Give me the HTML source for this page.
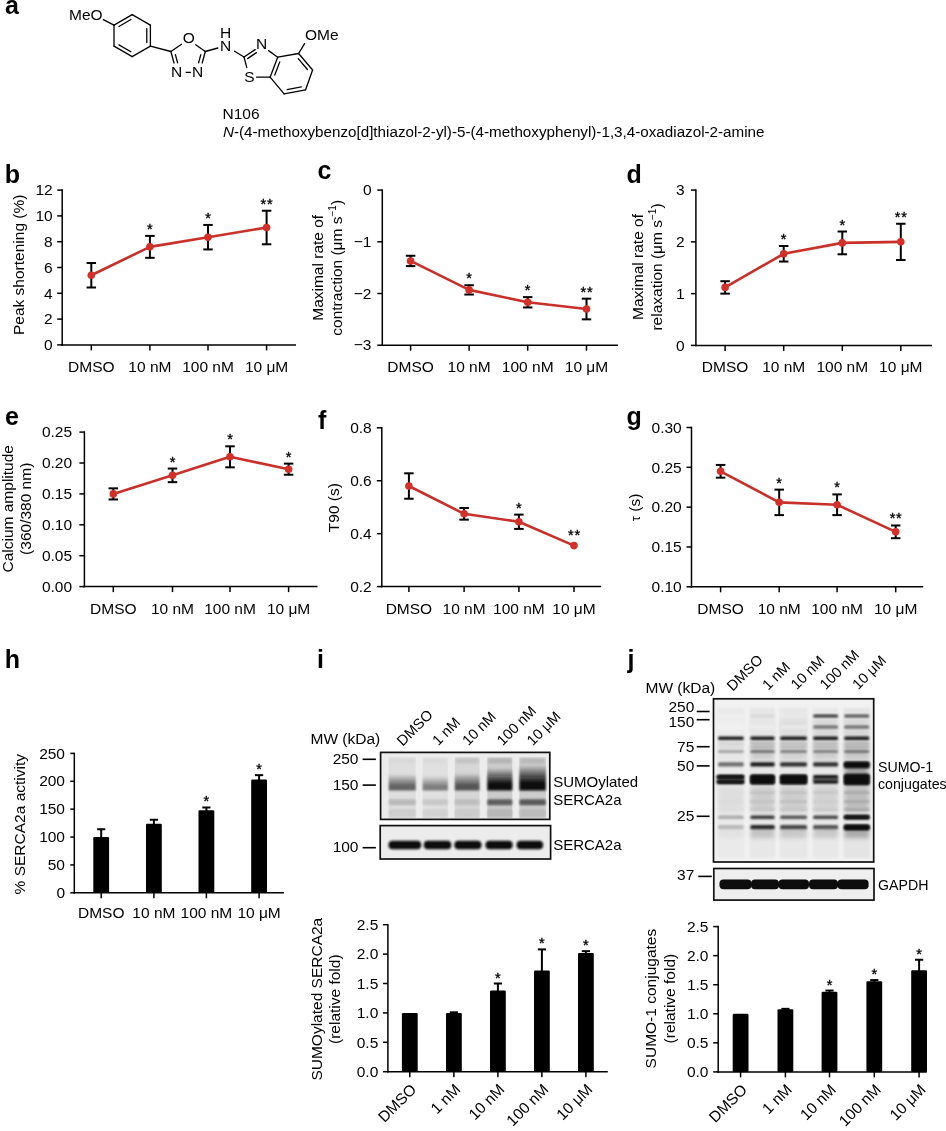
<!DOCTYPE html>
<html><head><meta charset="utf-8"><style>
html,body{margin:0;padding:0;background:#fff;width:946px;height:1131px;overflow:hidden}
svg{display:block;will-change:transform}
text{font-family:"Liberation Sans",sans-serif;fill:#000}
</style></head><body>
<svg width="946" height="1131" viewBox="0 0 946 1131" font-family="Liberation Sans, sans-serif">
<rect width="946" height="1131" fill="#fff"/>
<text x="5" y="14" font-size="25" text-anchor="start" font-weight="bold" >a</text>
<text x="4.8" y="182.6" font-size="25" text-anchor="start" font-weight="bold" >b</text>
<text x="317.6" y="178.6" font-size="25" text-anchor="start" font-weight="bold" >c</text>
<text x="626.5" y="182.6" font-size="25" text-anchor="start" font-weight="bold" >d</text>
<text x="5" y="425.2" font-size="25" text-anchor="start" font-weight="bold" >e</text>
<text x="318" y="429.4" font-size="25" text-anchor="start" font-weight="bold" >f</text>
<text x="626.6" y="425.2" font-size="25" text-anchor="start" font-weight="bold" >g</text>
<text x="4.8" y="667.5" font-size="25" text-anchor="start" font-weight="bold" >h</text>
<text x="317" y="667.5" font-size="25" text-anchor="start" font-weight="bold" >i</text>
<text x="627.5" y="667.5" font-size="25" text-anchor="start" font-weight="bold" >j</text>
<line x1="62.2" y1="189.35" x2="62.2" y2="345.65" stroke="#000" stroke-width="1.5" />
<line x1="61.45" y1="344.9" x2="296" y2="344.9" stroke="#000" stroke-width="1.5" />
<line x1="57.2" y1="344.9" x2="62.2" y2="344.9" stroke="#000" stroke-width="1.5" />
<text x="52.7" y="350.1" font-size="15.5" text-anchor="end" font-weight="normal" >0</text>
<line x1="57.2" y1="319.1" x2="62.2" y2="319.1" stroke="#000" stroke-width="1.5" />
<text x="52.7" y="324.3" font-size="15.5" text-anchor="end" font-weight="normal" >2</text>
<line x1="57.2" y1="293.3" x2="62.2" y2="293.3" stroke="#000" stroke-width="1.5" />
<text x="52.7" y="298.5" font-size="15.5" text-anchor="end" font-weight="normal" >4</text>
<line x1="57.2" y1="267.5" x2="62.2" y2="267.5" stroke="#000" stroke-width="1.5" />
<text x="52.7" y="272.7" font-size="15.5" text-anchor="end" font-weight="normal" >6</text>
<line x1="57.2" y1="241.7" x2="62.2" y2="241.7" stroke="#000" stroke-width="1.5" />
<text x="52.7" y="246.9" font-size="15.5" text-anchor="end" font-weight="normal" >8</text>
<line x1="57.2" y1="215.9" x2="62.2" y2="215.9" stroke="#000" stroke-width="1.5" />
<text x="52.7" y="221.1" font-size="15.5" text-anchor="end" font-weight="normal" >10</text>
<line x1="57.2" y1="190.1" x2="62.2" y2="190.1" stroke="#000" stroke-width="1.5" />
<text x="52.7" y="195.3" font-size="15.5" text-anchor="end" font-weight="normal" >12</text>
<line x1="91.3" y1="344.9" x2="91.3" y2="350.4" stroke="#000" stroke-width="1.5" />
<text x="91.3" y="371.9" font-size="15.5" text-anchor="middle" font-weight="normal" >DMSO</text>
<line x1="149.9" y1="344.9" x2="149.9" y2="350.4" stroke="#000" stroke-width="1.5" />
<text x="149.9" y="371.9" font-size="15.5" text-anchor="middle" font-weight="normal" >10 nM</text>
<line x1="208" y1="344.9" x2="208" y2="350.4" stroke="#000" stroke-width="1.5" />
<text x="208" y="371.9" font-size="15.5" text-anchor="middle" font-weight="normal" >100 nM</text>
<line x1="266.6" y1="344.9" x2="266.6" y2="350.4" stroke="#000" stroke-width="1.5" />
<text x="266.6" y="371.9" font-size="15.5" text-anchor="middle" font-weight="normal" >10 μM</text>
<line x1="91.3" y1="262.99" x2="91.3" y2="287.5" stroke="#000" stroke-width="2" />
<line x1="86.55" y1="262.99" x2="96.05" y2="262.99" stroke="#000" stroke-width="2" />
<line x1="86.55" y1="287.5" x2="96.05" y2="287.5" stroke="#000" stroke-width="2" />
<line x1="149.9" y1="235.89" x2="149.9" y2="257.82" stroke="#000" stroke-width="2" />
<line x1="145.15" y1="235.89" x2="154.65" y2="235.89" stroke="#000" stroke-width="2" />
<line x1="145.15" y1="257.82" x2="154.65" y2="257.82" stroke="#000" stroke-width="2" />
<line x1="208" y1="224.93" x2="208" y2="249.44" stroke="#000" stroke-width="2" />
<line x1="203.25" y1="224.93" x2="212.75" y2="224.93" stroke="#000" stroke-width="2" />
<line x1="203.25" y1="249.44" x2="212.75" y2="249.44" stroke="#000" stroke-width="2" />
<line x1="266.6" y1="210.74" x2="266.6" y2="244.28" stroke="#000" stroke-width="2" />
<line x1="261.85" y1="210.74" x2="271.35" y2="210.74" stroke="#000" stroke-width="2" />
<line x1="261.85" y1="244.28" x2="271.35" y2="244.28" stroke="#000" stroke-width="2" />
<polyline points="91.3,275.24 149.9,246.86 208,237.19 266.6,227.51" fill="none" stroke="#c9302a" stroke-width="2.6" stroke-linejoin="round"/>
<circle cx="91.3" cy="275.24" r="3.8" fill="#d3302a"/>
<circle cx="149.9" cy="246.86" r="3.8" fill="#d3302a"/>
<circle cx="208" cy="237.19" r="3.8" fill="#d3302a"/>
<circle cx="266.6" cy="227.51" r="3.8" fill="#d3302a"/>
<text x="149.9" y="233.89" font-size="14.5" text-anchor="middle" font-weight="normal" stroke="#000" stroke-width="0.35">*</text>
<text x="208" y="222.93" font-size="14.5" text-anchor="middle" font-weight="normal" stroke="#000" stroke-width="0.35">*</text>
<text x="267" y="208.74" font-size="14.5" text-anchor="middle" font-weight="normal" letter-spacing="0.8" stroke="#000" stroke-width="0.35">**</text>
<text transform="translate(24.3,264.8) rotate(-90)" font-size="15.5" text-anchor="middle">Peak shortening (%)</text>
<line x1="382.3" y1="189.35" x2="382.3" y2="345.95" stroke="#000" stroke-width="1.5" />
<line x1="381.55" y1="345.2" x2="618" y2="345.2" stroke="#000" stroke-width="1.5" />
<line x1="377.3" y1="190.1" x2="382.3" y2="190.1" stroke="#000" stroke-width="1.5" />
<text x="371.5" y="195.3" font-size="15.5" text-anchor="end" font-weight="normal" >0</text>
<line x1="377.3" y1="241.8" x2="382.3" y2="241.8" stroke="#000" stroke-width="1.5" />
<text x="371.5" y="247" font-size="15.5" text-anchor="end" font-weight="normal" >−1</text>
<line x1="377.3" y1="293.5" x2="382.3" y2="293.5" stroke="#000" stroke-width="1.5" />
<text x="371.5" y="298.7" font-size="15.5" text-anchor="end" font-weight="normal" >−2</text>
<line x1="377.3" y1="345.2" x2="382.3" y2="345.2" stroke="#000" stroke-width="1.5" />
<text x="371.5" y="350.4" font-size="15.5" text-anchor="end" font-weight="normal" >−3</text>
<line x1="410.6" y1="345.2" x2="410.6" y2="350.7" stroke="#000" stroke-width="1.5" />
<text x="410.6" y="372.2" font-size="15.5" text-anchor="middle" font-weight="normal" >DMSO</text>
<line x1="469.1" y1="345.2" x2="469.1" y2="350.7" stroke="#000" stroke-width="1.5" />
<text x="469.1" y="372.2" font-size="15.5" text-anchor="middle" font-weight="normal" >10 nM</text>
<line x1="527.7" y1="345.2" x2="527.7" y2="350.7" stroke="#000" stroke-width="1.5" />
<text x="527.7" y="372.2" font-size="15.5" text-anchor="middle" font-weight="normal" >100 nM</text>
<line x1="586.5" y1="345.2" x2="586.5" y2="350.7" stroke="#000" stroke-width="1.5" />
<text x="586.5" y="372.2" font-size="15.5" text-anchor="middle" font-weight="normal" >10 μM</text>
<line x1="410.6" y1="255.76" x2="410.6" y2="266.1" stroke="#000" stroke-width="2" />
<line x1="405.85" y1="255.76" x2="415.35" y2="255.76" stroke="#000" stroke-width="2" />
<line x1="405.85" y1="266.1" x2="415.35" y2="266.1" stroke="#000" stroke-width="2" />
<line x1="469.1" y1="285.23" x2="469.1" y2="294.53" stroke="#000" stroke-width="2" />
<line x1="464.35" y1="285.23" x2="473.85" y2="285.23" stroke="#000" stroke-width="2" />
<line x1="464.35" y1="294.53" x2="473.85" y2="294.53" stroke="#000" stroke-width="2" />
<line x1="527.7" y1="297.12" x2="527.7" y2="307.46" stroke="#000" stroke-width="2" />
<line x1="522.95" y1="297.12" x2="532.45" y2="297.12" stroke="#000" stroke-width="2" />
<line x1="522.95" y1="307.46" x2="532.45" y2="307.46" stroke="#000" stroke-width="2" />
<line x1="586.5" y1="298.67" x2="586.5" y2="319.35" stroke="#000" stroke-width="2" />
<line x1="581.75" y1="298.67" x2="591.25" y2="298.67" stroke="#000" stroke-width="2" />
<line x1="581.75" y1="319.35" x2="591.25" y2="319.35" stroke="#000" stroke-width="2" />
<polyline points="410.6,260.93 469.1,289.88 527.7,302.29 586.5,309.01" fill="none" stroke="#c9302a" stroke-width="2.6" stroke-linejoin="round"/>
<circle cx="410.6" cy="260.93" r="3.8" fill="#d3302a"/>
<circle cx="469.1" cy="289.88" r="3.8" fill="#d3302a"/>
<circle cx="527.7" cy="302.29" r="3.8" fill="#d3302a"/>
<circle cx="586.5" cy="309.01" r="3.8" fill="#d3302a"/>
<text x="469.1" y="283.23" font-size="14.5" text-anchor="middle" font-weight="normal" stroke="#000" stroke-width="0.35">*</text>
<text x="527.7" y="295.12" font-size="14.5" text-anchor="middle" font-weight="normal" stroke="#000" stroke-width="0.35">*</text>
<text x="586.9" y="296.67" font-size="14.5" text-anchor="middle" font-weight="normal" letter-spacing="0.8" stroke="#000" stroke-width="0.35">**</text>
<text transform="translate(323.2,267.8) rotate(-90)" font-size="15.5" text-anchor="middle">Maximal rate of</text>
<text transform="translate(341.5,267.8) rotate(-90)" font-size="15.5" text-anchor="middle">contraction (μm s<tspan font-size='10' dy='-6'>−1</tspan><tspan dy='6'>)</tspan></text>
<line x1="695.9" y1="189.35" x2="695.9" y2="346.15" stroke="#000" stroke-width="1.5" />
<line x1="695.15" y1="345.4" x2="931.9" y2="345.4" stroke="#000" stroke-width="1.5" />
<line x1="690.9" y1="345.4" x2="695.9" y2="345.4" stroke="#000" stroke-width="1.5" />
<text x="684.6" y="350.6" font-size="15.5" text-anchor="end" font-weight="normal" >0</text>
<line x1="690.9" y1="293.63" x2="695.9" y2="293.63" stroke="#000" stroke-width="1.5" />
<text x="684.6" y="298.83" font-size="15.5" text-anchor="end" font-weight="normal" >1</text>
<line x1="690.9" y1="241.87" x2="695.9" y2="241.87" stroke="#000" stroke-width="1.5" />
<text x="684.6" y="247.07" font-size="15.5" text-anchor="end" font-weight="normal" >2</text>
<line x1="690.9" y1="190.1" x2="695.9" y2="190.1" stroke="#000" stroke-width="1.5" />
<text x="684.6" y="195.3" font-size="15.5" text-anchor="end" font-weight="normal" >3</text>
<line x1="725.1" y1="345.4" x2="725.1" y2="350.9" stroke="#000" stroke-width="1.5" />
<text x="725.1" y="372.4" font-size="15.5" text-anchor="middle" font-weight="normal" >DMSO</text>
<line x1="783.7" y1="345.4" x2="783.7" y2="350.9" stroke="#000" stroke-width="1.5" />
<text x="783.7" y="372.4" font-size="15.5" text-anchor="middle" font-weight="normal" >10 nM</text>
<line x1="842.3" y1="345.4" x2="842.3" y2="350.9" stroke="#000" stroke-width="1.5" />
<text x="842.3" y="372.4" font-size="15.5" text-anchor="middle" font-weight="normal" >100 nM</text>
<line x1="900.8" y1="345.4" x2="900.8" y2="350.9" stroke="#000" stroke-width="1.5" />
<text x="900.8" y="372.4" font-size="15.5" text-anchor="middle" font-weight="normal" >10 μM</text>
<line x1="725.1" y1="281.21" x2="725.1" y2="293.63" stroke="#000" stroke-width="2" />
<line x1="720.35" y1="281.21" x2="729.85" y2="281.21" stroke="#000" stroke-width="2" />
<line x1="720.35" y1="293.63" x2="729.85" y2="293.63" stroke="#000" stroke-width="2" />
<line x1="783.7" y1="246.01" x2="783.7" y2="261.54" stroke="#000" stroke-width="2" />
<line x1="778.95" y1="246.01" x2="788.45" y2="246.01" stroke="#000" stroke-width="2" />
<line x1="778.95" y1="261.54" x2="788.45" y2="261.54" stroke="#000" stroke-width="2" />
<line x1="842.3" y1="231.51" x2="842.3" y2="254.29" stroke="#000" stroke-width="2" />
<line x1="837.55" y1="231.51" x2="847.05" y2="231.51" stroke="#000" stroke-width="2" />
<line x1="837.55" y1="254.29" x2="847.05" y2="254.29" stroke="#000" stroke-width="2" />
<line x1="900.8" y1="223.75" x2="900.8" y2="259.99" stroke="#000" stroke-width="2" />
<line x1="896.05" y1="223.75" x2="905.55" y2="223.75" stroke="#000" stroke-width="2" />
<line x1="896.05" y1="259.99" x2="905.55" y2="259.99" stroke="#000" stroke-width="2" />
<polyline points="725.1,287.42 783.7,253.77 842.3,242.9 900.8,241.87" fill="none" stroke="#c9302a" stroke-width="2.6" stroke-linejoin="round"/>
<circle cx="725.1" cy="287.42" r="3.8" fill="#d3302a"/>
<circle cx="783.7" cy="253.77" r="3.8" fill="#d3302a"/>
<circle cx="842.3" cy="242.9" r="3.8" fill="#d3302a"/>
<circle cx="900.8" cy="241.87" r="3.8" fill="#d3302a"/>
<text x="783.7" y="244.01" font-size="14.5" text-anchor="middle" font-weight="normal" stroke="#000" stroke-width="0.35">*</text>
<text x="842.3" y="229.51" font-size="14.5" text-anchor="middle" font-weight="normal" stroke="#000" stroke-width="0.35">*</text>
<text x="901.2" y="221.75" font-size="14.5" text-anchor="middle" font-weight="normal" letter-spacing="0.8" stroke="#000" stroke-width="0.35">**</text>
<text transform="translate(643.2,267) rotate(-90)" font-size="15.5" text-anchor="middle">Maximal rate of</text>
<text transform="translate(661.5,267) rotate(-90)" font-size="15.5" text-anchor="middle">relaxation (μm s<tspan font-size='10' dy='-6'>−1</tspan><tspan dy='6'>)</tspan></text>
<line x1="84.4" y1="431.35" x2="84.4" y2="587.35" stroke="#000" stroke-width="1.5" />
<line x1="83.65" y1="586.6" x2="317.5" y2="586.6" stroke="#000" stroke-width="1.5" />
<line x1="79.4" y1="586.6" x2="84.4" y2="586.6" stroke="#000" stroke-width="1.5" />
<text x="72.1" y="591.8" font-size="15.5" text-anchor="end" font-weight="normal" >0.00</text>
<line x1="79.4" y1="555.7" x2="84.4" y2="555.7" stroke="#000" stroke-width="1.5" />
<text x="72.1" y="560.9" font-size="15.5" text-anchor="end" font-weight="normal" >0.05</text>
<line x1="79.4" y1="524.8" x2="84.4" y2="524.8" stroke="#000" stroke-width="1.5" />
<text x="72.1" y="530" font-size="15.5" text-anchor="end" font-weight="normal" >0.10</text>
<line x1="79.4" y1="493.9" x2="84.4" y2="493.9" stroke="#000" stroke-width="1.5" />
<text x="72.1" y="499.1" font-size="15.5" text-anchor="end" font-weight="normal" >0.15</text>
<line x1="79.4" y1="463" x2="84.4" y2="463" stroke="#000" stroke-width="1.5" />
<text x="72.1" y="468.2" font-size="15.5" text-anchor="end" font-weight="normal" >0.20</text>
<line x1="79.4" y1="432.1" x2="84.4" y2="432.1" stroke="#000" stroke-width="1.5" />
<text x="72.1" y="437.3" font-size="15.5" text-anchor="end" font-weight="normal" >0.25</text>
<line x1="113.3" y1="586.6" x2="113.3" y2="592.1" stroke="#000" stroke-width="1.5" />
<text x="113.3" y="613.6" font-size="15.5" text-anchor="middle" font-weight="normal" >DMSO</text>
<line x1="172.5" y1="586.6" x2="172.5" y2="592.1" stroke="#000" stroke-width="1.5" />
<text x="172.5" y="613.6" font-size="15.5" text-anchor="middle" font-weight="normal" >10 nM</text>
<line x1="230" y1="586.6" x2="230" y2="592.1" stroke="#000" stroke-width="1.5" />
<text x="230" y="613.6" font-size="15.5" text-anchor="middle" font-weight="normal" >100 nM</text>
<line x1="288.6" y1="586.6" x2="288.6" y2="592.1" stroke="#000" stroke-width="1.5" />
<text x="288.6" y="613.6" font-size="15.5" text-anchor="middle" font-weight="normal" >10 μM</text>
<line x1="113.3" y1="488.34" x2="113.3" y2="499.46" stroke="#000" stroke-width="2" />
<line x1="108.55" y1="488.34" x2="118.05" y2="488.34" stroke="#000" stroke-width="2" />
<line x1="108.55" y1="499.46" x2="118.05" y2="499.46" stroke="#000" stroke-width="2" />
<line x1="172.5" y1="468.56" x2="172.5" y2="482.16" stroke="#000" stroke-width="2" />
<line x1="167.75" y1="468.56" x2="177.25" y2="468.56" stroke="#000" stroke-width="2" />
<line x1="167.75" y1="482.16" x2="177.25" y2="482.16" stroke="#000" stroke-width="2" />
<line x1="230" y1="446.31" x2="230" y2="467.33" stroke="#000" stroke-width="2" />
<line x1="225.25" y1="446.31" x2="234.75" y2="446.31" stroke="#000" stroke-width="2" />
<line x1="225.25" y1="467.33" x2="234.75" y2="467.33" stroke="#000" stroke-width="2" />
<line x1="288.6" y1="463.62" x2="288.6" y2="474.74" stroke="#000" stroke-width="2" />
<line x1="283.85" y1="463.62" x2="293.35" y2="463.62" stroke="#000" stroke-width="2" />
<line x1="283.85" y1="474.74" x2="293.35" y2="474.74" stroke="#000" stroke-width="2" />
<polyline points="113.3,493.9 172.5,475.36 230,456.82 288.6,469.18" fill="none" stroke="#c9302a" stroke-width="2.6" stroke-linejoin="round"/>
<circle cx="113.3" cy="493.9" r="3.8" fill="#d3302a"/>
<circle cx="172.5" cy="475.36" r="3.8" fill="#d3302a"/>
<circle cx="230" cy="456.82" r="3.8" fill="#d3302a"/>
<circle cx="288.6" cy="469.18" r="3.8" fill="#d3302a"/>
<text x="172.5" y="466.56" font-size="14.5" text-anchor="middle" font-weight="normal" stroke="#000" stroke-width="0.35">*</text>
<text x="230" y="444.31" font-size="14.5" text-anchor="middle" font-weight="normal" stroke="#000" stroke-width="0.35">*</text>
<text x="288.6" y="461.62" font-size="14.5" text-anchor="middle" font-weight="normal" stroke="#000" stroke-width="0.35">*</text>
<text transform="translate(12.6,508.8) rotate(-90)" font-size="15.5" text-anchor="middle">Calcium amplitude</text>
<text transform="translate(31.1,508.8) rotate(-90)" font-size="15.5" text-anchor="middle">(360/380 nm)</text>
<line x1="381.8" y1="427.05" x2="381.8" y2="587.35" stroke="#000" stroke-width="1.5" />
<line x1="381.05" y1="586.6" x2="601.1" y2="586.6" stroke="#000" stroke-width="1.5" />
<line x1="376.8" y1="586.6" x2="381.8" y2="586.6" stroke="#000" stroke-width="1.5" />
<text x="371.7" y="591.8" font-size="15.5" text-anchor="end" font-weight="normal" >0.2</text>
<line x1="376.8" y1="533.67" x2="381.8" y2="533.67" stroke="#000" stroke-width="1.5" />
<text x="371.7" y="538.87" font-size="15.5" text-anchor="end" font-weight="normal" >0.4</text>
<line x1="376.8" y1="480.73" x2="381.8" y2="480.73" stroke="#000" stroke-width="1.5" />
<text x="371.7" y="485.93" font-size="15.5" text-anchor="end" font-weight="normal" >0.6</text>
<line x1="376.8" y1="427.8" x2="381.8" y2="427.8" stroke="#000" stroke-width="1.5" />
<text x="371.7" y="433" font-size="15.5" text-anchor="end" font-weight="normal" >0.8</text>
<line x1="408.9" y1="586.6" x2="408.9" y2="592.1" stroke="#000" stroke-width="1.5" />
<text x="408.9" y="613.6" font-size="15.5" text-anchor="middle" font-weight="normal" >DMSO</text>
<line x1="464.1" y1="586.6" x2="464.1" y2="592.1" stroke="#000" stroke-width="1.5" />
<text x="464.1" y="613.6" font-size="15.5" text-anchor="middle" font-weight="normal" >10 nM</text>
<line x1="518.9" y1="586.6" x2="518.9" y2="592.1" stroke="#000" stroke-width="1.5" />
<text x="518.9" y="613.6" font-size="15.5" text-anchor="middle" font-weight="normal" >100 nM</text>
<line x1="574" y1="586.6" x2="574" y2="592.1" stroke="#000" stroke-width="1.5" />
<text x="574" y="613.6" font-size="15.5" text-anchor="middle" font-weight="normal" >10 μM</text>
<line x1="408.9" y1="473.32" x2="408.9" y2="498.73" stroke="#000" stroke-width="2" />
<line x1="404.15" y1="473.32" x2="413.65" y2="473.32" stroke="#000" stroke-width="2" />
<line x1="404.15" y1="498.73" x2="413.65" y2="498.73" stroke="#000" stroke-width="2" />
<line x1="464.1" y1="507.99" x2="464.1" y2="519.64" stroke="#000" stroke-width="2" />
<line x1="459.35" y1="507.99" x2="468.85" y2="507.99" stroke="#000" stroke-width="2" />
<line x1="459.35" y1="519.64" x2="468.85" y2="519.64" stroke="#000" stroke-width="2" />
<line x1="518.9" y1="514.61" x2="518.9" y2="528.9" stroke="#000" stroke-width="2" />
<line x1="514.15" y1="514.61" x2="523.65" y2="514.61" stroke="#000" stroke-width="2" />
<line x1="514.15" y1="528.9" x2="523.65" y2="528.9" stroke="#000" stroke-width="2" />
<polyline points="408.9,486.03 464.1,513.82 518.9,521.76 574,545.58" fill="none" stroke="#c9302a" stroke-width="2.6" stroke-linejoin="round"/>
<circle cx="408.9" cy="486.03" r="3.8" fill="#d3302a"/>
<circle cx="464.1" cy="513.82" r="3.8" fill="#d3302a"/>
<circle cx="518.9" cy="521.76" r="3.8" fill="#d3302a"/>
<circle cx="574" cy="545.58" r="3.8" fill="#d3302a"/>
<text x="518.9" y="512.61" font-size="14.5" text-anchor="middle" font-weight="normal" stroke="#000" stroke-width="0.35">*</text>
<text x="574.4" y="539.58" font-size="14.5" text-anchor="middle" font-weight="normal" letter-spacing="0.8" stroke="#000" stroke-width="0.35">**</text>
<text transform="translate(339.4,507.6) rotate(-90)" font-size="15.5" text-anchor="middle">T90 (s)</text>
<line x1="691.5" y1="426.75" x2="691.5" y2="587.55" stroke="#000" stroke-width="1.5" />
<line x1="690.75" y1="586.8" x2="923.2" y2="586.8" stroke="#000" stroke-width="1.5" />
<line x1="686.5" y1="586.8" x2="691.5" y2="586.8" stroke="#000" stroke-width="1.5" />
<text x="681.7" y="592" font-size="15.5" text-anchor="end" font-weight="normal" >0.10</text>
<line x1="686.5" y1="546.98" x2="691.5" y2="546.98" stroke="#000" stroke-width="1.5" />
<text x="681.7" y="552.18" font-size="15.5" text-anchor="end" font-weight="normal" >0.15</text>
<line x1="686.5" y1="507.15" x2="691.5" y2="507.15" stroke="#000" stroke-width="1.5" />
<text x="681.7" y="512.35" font-size="15.5" text-anchor="end" font-weight="normal" >0.20</text>
<line x1="686.5" y1="467.32" x2="691.5" y2="467.32" stroke="#000" stroke-width="1.5" />
<text x="681.7" y="472.52" font-size="15.5" text-anchor="end" font-weight="normal" >0.25</text>
<line x1="686.5" y1="427.5" x2="691.5" y2="427.5" stroke="#000" stroke-width="1.5" />
<text x="681.7" y="432.7" font-size="15.5" text-anchor="end" font-weight="normal" >0.30</text>
<line x1="720.6" y1="586.8" x2="720.6" y2="592.3" stroke="#000" stroke-width="1.5" />
<text x="720.6" y="613.8" font-size="15.5" text-anchor="middle" font-weight="normal" >DMSO</text>
<line x1="779.2" y1="586.8" x2="779.2" y2="592.3" stroke="#000" stroke-width="1.5" />
<text x="779.2" y="613.8" font-size="15.5" text-anchor="middle" font-weight="normal" >10 nM</text>
<line x1="837.1" y1="586.8" x2="837.1" y2="592.3" stroke="#000" stroke-width="1.5" />
<text x="837.1" y="613.8" font-size="15.5" text-anchor="middle" font-weight="normal" >100 nM</text>
<line x1="895.7" y1="586.8" x2="895.7" y2="592.3" stroke="#000" stroke-width="1.5" />
<text x="895.7" y="613.8" font-size="15.5" text-anchor="middle" font-weight="normal" >10 μM</text>
<line x1="720.6" y1="464.94" x2="720.6" y2="477.68" stroke="#000" stroke-width="2" />
<line x1="715.85" y1="464.94" x2="725.35" y2="464.94" stroke="#000" stroke-width="2" />
<line x1="715.85" y1="477.68" x2="725.35" y2="477.68" stroke="#000" stroke-width="2" />
<line x1="779.2" y1="489.63" x2="779.2" y2="515.12" stroke="#000" stroke-width="2" />
<line x1="774.45" y1="489.63" x2="783.95" y2="489.63" stroke="#000" stroke-width="2" />
<line x1="774.45" y1="515.12" x2="783.95" y2="515.12" stroke="#000" stroke-width="2" />
<line x1="837.1" y1="494.41" x2="837.1" y2="515.12" stroke="#000" stroke-width="2" />
<line x1="832.35" y1="494.41" x2="841.85" y2="494.41" stroke="#000" stroke-width="2" />
<line x1="832.35" y1="515.12" x2="841.85" y2="515.12" stroke="#000" stroke-width="2" />
<line x1="895.7" y1="525.47" x2="895.7" y2="538.21" stroke="#000" stroke-width="2" />
<line x1="890.95" y1="525.47" x2="900.45" y2="525.47" stroke="#000" stroke-width="2" />
<line x1="890.95" y1="538.21" x2="900.45" y2="538.21" stroke="#000" stroke-width="2" />
<polyline points="720.6,471.31 779.2,502.37 837.1,504.76 895.7,531.84" fill="none" stroke="#c9302a" stroke-width="2.6" stroke-linejoin="round"/>
<circle cx="720.6" cy="471.31" r="3.8" fill="#d3302a"/>
<circle cx="779.2" cy="502.37" r="3.8" fill="#d3302a"/>
<circle cx="837.1" cy="504.76" r="3.8" fill="#d3302a"/>
<circle cx="895.7" cy="531.84" r="3.8" fill="#d3302a"/>
<text x="779.2" y="487.63" font-size="14.5" text-anchor="middle" font-weight="normal" stroke="#000" stroke-width="0.35">*</text>
<text x="837.1" y="492.41" font-size="14.5" text-anchor="middle" font-weight="normal" stroke="#000" stroke-width="0.35">*</text>
<text x="896.1" y="523.47" font-size="14.5" text-anchor="middle" font-weight="normal" letter-spacing="0.8" stroke="#000" stroke-width="0.35">**</text>
<text transform="translate(639.6,507.4) rotate(-90)" font-size="15.5" text-anchor="middle"><tspan font-size='13'>τ</tspan> (s)</text>
<line x1="74.3" y1="752.65" x2="74.3" y2="893.55" stroke="#000" stroke-width="1.5" />
<line x1="73.55" y1="892.8" x2="283.9" y2="892.8" stroke="#000" stroke-width="1.5" />
<line x1="70.3" y1="892.8" x2="74.3" y2="892.8" stroke="#000" stroke-width="1.5" />
<text x="65" y="898" font-size="15.5" text-anchor="end" font-weight="normal" >0</text>
<line x1="70.3" y1="864.92" x2="74.3" y2="864.92" stroke="#000" stroke-width="1.5" />
<text x="65" y="870.12" font-size="15.5" text-anchor="end" font-weight="normal" >50</text>
<line x1="70.3" y1="837.04" x2="74.3" y2="837.04" stroke="#000" stroke-width="1.5" />
<text x="65" y="842.24" font-size="15.5" text-anchor="end" font-weight="normal" >100</text>
<line x1="70.3" y1="809.16" x2="74.3" y2="809.16" stroke="#000" stroke-width="1.5" />
<text x="65" y="814.36" font-size="15.5" text-anchor="end" font-weight="normal" >150</text>
<line x1="70.3" y1="781.28" x2="74.3" y2="781.28" stroke="#000" stroke-width="1.5" />
<text x="65" y="786.48" font-size="15.5" text-anchor="end" font-weight="normal" >200</text>
<line x1="70.3" y1="753.4" x2="74.3" y2="753.4" stroke="#000" stroke-width="1.5" />
<text x="65" y="758.6" font-size="15.5" text-anchor="end" font-weight="normal" >250</text>
<line x1="101.2" y1="892.8" x2="101.2" y2="898.3" stroke="#000" stroke-width="1.5" />
<text x="101.2" y="917.6" font-size="15.5" text-anchor="middle" font-weight="normal" >DMSO</text>
<line x1="153.9" y1="892.8" x2="153.9" y2="898.3" stroke="#000" stroke-width="1.5" />
<text x="153.9" y="917.6" font-size="15.5" text-anchor="middle" font-weight="normal" >10 nM</text>
<line x1="206.4" y1="892.8" x2="206.4" y2="898.3" stroke="#000" stroke-width="1.5" />
<text x="206.4" y="917.6" font-size="15.5" text-anchor="middle" font-weight="normal" >100 nM</text>
<line x1="259.1" y1="892.8" x2="259.1" y2="898.3" stroke="#000" stroke-width="1.5" />
<text x="259.1" y="917.6" font-size="15.5" text-anchor="middle" font-weight="normal" >10 μM</text>
<line x1="101.2" y1="829.23" x2="101.2" y2="838.04" stroke="#000" stroke-width="2" />
<line x1="97.1" y1="829.23" x2="105.3" y2="829.23" stroke="#000" stroke-width="2" />
<rect x="93.3" y="837.04" width="15.8" height="55.76" rx="1.2" fill="#000"/>
<line x1="153.9" y1="819.75" x2="153.9" y2="824.66" stroke="#000" stroke-width="2" />
<line x1="149.8" y1="819.75" x2="158" y2="819.75" stroke="#000" stroke-width="2" />
<rect x="146" y="823.66" width="15.8" height="69.14" rx="1.2" fill="#000"/>
<line x1="206.4" y1="807.49" x2="206.4" y2="811.28" stroke="#000" stroke-width="2" />
<line x1="202.3" y1="807.49" x2="210.5" y2="807.49" stroke="#000" stroke-width="2" />
<rect x="198.5" y="810.28" width="15.8" height="82.52" rx="1.2" fill="#000"/>
<text x="206.4" y="806.49" font-size="14.5" text-anchor="middle" font-weight="normal" stroke="#000" stroke-width="0.35">*</text>
<line x1="259.1" y1="775.15" x2="259.1" y2="780.61" stroke="#000" stroke-width="2" />
<line x1="255" y1="775.15" x2="263.2" y2="775.15" stroke="#000" stroke-width="2" />
<rect x="251.2" y="779.61" width="15.8" height="113.19" rx="1.2" fill="#000"/>
<text x="259.1" y="774.15" font-size="14.5" text-anchor="middle" font-weight="normal" stroke="#000" stroke-width="0.35">*</text>
<text transform="translate(25.1,824.2) rotate(-90)" font-size="15.5" text-anchor="middle">% SERCA2a activity</text>
<line x1="387.9" y1="923.95" x2="387.9" y2="1072.45" stroke="#000" stroke-width="1.5" />
<line x1="387.15" y1="1071.7" x2="607.8" y2="1071.7" stroke="#000" stroke-width="1.5" />
<line x1="382.9" y1="1071.7" x2="387.9" y2="1071.7" stroke="#000" stroke-width="1.5" />
<text x="378.3" y="1076.9" font-size="15.5" text-anchor="end" font-weight="normal" >0.0</text>
<line x1="382.9" y1="1042.3" x2="387.9" y2="1042.3" stroke="#000" stroke-width="1.5" />
<text x="378.3" y="1047.5" font-size="15.5" text-anchor="end" font-weight="normal" >0.5</text>
<line x1="382.9" y1="1012.9" x2="387.9" y2="1012.9" stroke="#000" stroke-width="1.5" />
<text x="378.3" y="1018.1" font-size="15.5" text-anchor="end" font-weight="normal" >1.0</text>
<line x1="382.9" y1="983.5" x2="387.9" y2="983.5" stroke="#000" stroke-width="1.5" />
<text x="378.3" y="988.7" font-size="15.5" text-anchor="end" font-weight="normal" >1.5</text>
<line x1="382.9" y1="954.1" x2="387.9" y2="954.1" stroke="#000" stroke-width="1.5" />
<text x="378.3" y="959.3" font-size="15.5" text-anchor="end" font-weight="normal" >2.0</text>
<line x1="382.9" y1="924.7" x2="387.9" y2="924.7" stroke="#000" stroke-width="1.5" />
<text x="378.3" y="929.9" font-size="15.5" text-anchor="end" font-weight="normal" >2.5</text>
<line x1="409.8" y1="1071.7" x2="409.8" y2="1077.2" stroke="#000" stroke-width="1.5" />
<line x1="453.9" y1="1071.7" x2="453.9" y2="1077.2" stroke="#000" stroke-width="1.5" />
<line x1="497.9" y1="1071.7" x2="497.9" y2="1077.2" stroke="#000" stroke-width="1.5" />
<line x1="541.9" y1="1071.7" x2="541.9" y2="1077.2" stroke="#000" stroke-width="1.5" />
<line x1="585.9" y1="1071.7" x2="585.9" y2="1077.2" stroke="#000" stroke-width="1.5" />
<rect x="401.9" y="1012.9" width="15.8" height="58.8" rx="1.2" fill="#000"/>
<line x1="453.9" y1="1012.31" x2="453.9" y2="1013.9" stroke="#000" stroke-width="2" />
<line x1="449.8" y1="1012.31" x2="458" y2="1012.31" stroke="#000" stroke-width="2" />
<rect x="446" y="1012.9" width="15.8" height="58.8" rx="1.2" fill="#000"/>
<line x1="497.9" y1="983.5" x2="497.9" y2="991.56" stroke="#000" stroke-width="2" />
<line x1="493.8" y1="983.5" x2="502" y2="983.5" stroke="#000" stroke-width="2" />
<rect x="490" y="990.56" width="15.8" height="81.14" rx="1.2" fill="#000"/>
<text x="497.9" y="982.5" font-size="14.5" text-anchor="middle" font-weight="normal" stroke="#000" stroke-width="0.35">*</text>
<line x1="541.9" y1="949.4" x2="541.9" y2="971.56" stroke="#000" stroke-width="2" />
<line x1="537.8" y1="949.4" x2="546" y2="949.4" stroke="#000" stroke-width="2" />
<rect x="534" y="970.56" width="15.8" height="101.14" rx="1.2" fill="#000"/>
<text x="541.9" y="948.4" font-size="14.5" text-anchor="middle" font-weight="normal" stroke="#000" stroke-width="0.35">*</text>
<line x1="585.9" y1="951.16" x2="585.9" y2="953.92" stroke="#000" stroke-width="2" />
<line x1="581.8" y1="951.16" x2="590" y2="951.16" stroke="#000" stroke-width="2" />
<rect x="578" y="952.92" width="15.8" height="118.78" rx="1.2" fill="#000"/>
<text x="585.9" y="950.16" font-size="14.5" text-anchor="middle" font-weight="normal" stroke="#000" stroke-width="0.35">*</text>
<text transform="translate(417.3,1090.4) rotate(-45)" font-size="15.5" text-anchor="end">DMSO</text>
<text transform="translate(461.4,1090.4) rotate(-45)" font-size="15.5" text-anchor="end">1 nM</text>
<text transform="translate(505.4,1090.4) rotate(-45)" font-size="15.5" text-anchor="end">10 nM</text>
<text transform="translate(549.4,1090.4) rotate(-45)" font-size="15.5" text-anchor="end">100 nM</text>
<text transform="translate(593.4,1090.4) rotate(-45)" font-size="15.5" text-anchor="end">10 μM</text>
<text transform="translate(321.8,999.2) rotate(-90)" font-size="15.5" text-anchor="middle">SUMOylated SERCA2a</text>
<text transform="translate(340.4,999.2) rotate(-90)" font-size="15.5" text-anchor="middle">(relative fold)</text>
<line x1="718.2" y1="925.85" x2="718.2" y2="1072.65" stroke="#000" stroke-width="1.5" />
<line x1="717.45" y1="1071.9" x2="926.7" y2="1071.9" stroke="#000" stroke-width="1.5" />
<line x1="713.2" y1="1071.9" x2="718.2" y2="1071.9" stroke="#000" stroke-width="1.5" />
<text x="708.5" y="1077.1" font-size="15.5" text-anchor="end" font-weight="normal" >0.0</text>
<line x1="713.2" y1="1042.84" x2="718.2" y2="1042.84" stroke="#000" stroke-width="1.5" />
<text x="708.5" y="1048.04" font-size="15.5" text-anchor="end" font-weight="normal" >0.5</text>
<line x1="713.2" y1="1013.78" x2="718.2" y2="1013.78" stroke="#000" stroke-width="1.5" />
<text x="708.5" y="1018.98" font-size="15.5" text-anchor="end" font-weight="normal" >1.0</text>
<line x1="713.2" y1="984.72" x2="718.2" y2="984.72" stroke="#000" stroke-width="1.5" />
<text x="708.5" y="989.92" font-size="15.5" text-anchor="end" font-weight="normal" >1.5</text>
<line x1="713.2" y1="955.66" x2="718.2" y2="955.66" stroke="#000" stroke-width="1.5" />
<text x="708.5" y="960.86" font-size="15.5" text-anchor="end" font-weight="normal" >2.0</text>
<line x1="713.2" y1="926.6" x2="718.2" y2="926.6" stroke="#000" stroke-width="1.5" />
<text x="708.5" y="931.8" font-size="15.5" text-anchor="end" font-weight="normal" >2.5</text>
<line x1="740.6" y1="1071.9" x2="740.6" y2="1077.4" stroke="#000" stroke-width="1.5" />
<line x1="785.4" y1="1071.9" x2="785.4" y2="1077.4" stroke="#000" stroke-width="1.5" />
<line x1="829.5" y1="1071.9" x2="829.5" y2="1077.4" stroke="#000" stroke-width="1.5" />
<line x1="874.3" y1="1071.9" x2="874.3" y2="1077.4" stroke="#000" stroke-width="1.5" />
<line x1="919.1" y1="1071.9" x2="919.1" y2="1077.4" stroke="#000" stroke-width="1.5" />
<rect x="732.7" y="1013.78" width="15.8" height="58.12" rx="1.2" fill="#000"/>
<line x1="785.4" y1="1008.84" x2="785.4" y2="1010.13" stroke="#000" stroke-width="2" />
<line x1="781.3" y1="1008.84" x2="789.5" y2="1008.84" stroke="#000" stroke-width="2" />
<rect x="777.5" y="1009.13" width="15.8" height="62.77" rx="1.2" fill="#000"/>
<line x1="829.5" y1="990.53" x2="829.5" y2="992.69" stroke="#000" stroke-width="2" />
<line x1="825.4" y1="990.53" x2="833.6" y2="990.53" stroke="#000" stroke-width="2" />
<rect x="821.6" y="991.69" width="15.8" height="80.21" rx="1.2" fill="#000"/>
<text x="829.5" y="989.53" font-size="14.5" text-anchor="middle" font-weight="normal" stroke="#000" stroke-width="0.35">*</text>
<line x1="874.3" y1="980.07" x2="874.3" y2="982.23" stroke="#000" stroke-width="2" />
<line x1="870.2" y1="980.07" x2="878.4" y2="980.07" stroke="#000" stroke-width="2" />
<rect x="866.4" y="981.23" width="15.8" height="90.67" rx="1.2" fill="#000"/>
<text x="874.3" y="979.07" font-size="14.5" text-anchor="middle" font-weight="normal" stroke="#000" stroke-width="0.35">*</text>
<line x1="919.1" y1="959.73" x2="919.1" y2="971.19" stroke="#000" stroke-width="2" />
<line x1="915" y1="959.73" x2="923.2" y2="959.73" stroke="#000" stroke-width="2" />
<rect x="911.2" y="970.19" width="15.8" height="101.71" rx="1.2" fill="#000"/>
<text x="919.1" y="958.73" font-size="14.5" text-anchor="middle" font-weight="normal" stroke="#000" stroke-width="0.35">*</text>
<text transform="translate(748.1,1090.6) rotate(-45)" font-size="15.5" text-anchor="end">DMSO</text>
<text transform="translate(792.9,1090.6) rotate(-45)" font-size="15.5" text-anchor="end">1 nM</text>
<text transform="translate(837,1090.6) rotate(-45)" font-size="15.5" text-anchor="end">10 nM</text>
<text transform="translate(881.8,1090.6) rotate(-45)" font-size="15.5" text-anchor="end">100 nM</text>
<text transform="translate(926.6,1090.6) rotate(-45)" font-size="15.5" text-anchor="end">10 μM</text>
<text transform="translate(655.9,998.6) rotate(-90)" font-size="15.5" text-anchor="middle">SUMO-1 conjugates</text>
<text transform="translate(674.6,998.6) rotate(-90)" font-size="15.5" text-anchor="middle">(relative fold)</text>
<line x1="114.01" y1="25.15" x2="132.2" y2="14.65" stroke="#000" stroke-width="1.3" stroke-linecap="round"/>
<line x1="132.2" y1="14.65" x2="150.39" y2="25.15" stroke="#000" stroke-width="1.3" stroke-linecap="round"/>
<line x1="150.39" y1="25.15" x2="150.39" y2="46.15" stroke="#000" stroke-width="1.3" stroke-linecap="round"/>
<line x1="150.39" y1="46.15" x2="132.2" y2="56.65" stroke="#000" stroke-width="1.3" stroke-linecap="round"/>
<line x1="132.2" y1="56.65" x2="114.01" y2="46.15" stroke="#000" stroke-width="1.3" stroke-linecap="round"/>
<line x1="114.01" y1="46.15" x2="114.01" y2="25.15" stroke="#000" stroke-width="1.3" stroke-linecap="round"/>
<line x1="118.91" y1="26.48" x2="130.91" y2="19.55" stroke="#000" stroke-width="1.3" stroke-linecap="round"/>
<line x1="146.79" y1="28.72" x2="146.79" y2="42.58" stroke="#000" stroke-width="1.3" stroke-linecap="round"/>
<line x1="130.91" y1="51.75" x2="118.91" y2="44.82" stroke="#000" stroke-width="1.3" stroke-linecap="round"/>
<text x="69" y="19.6" font-size="15.5" text-anchor="start" font-weight="normal" >MeO</text>
<line x1="103.3" y1="19.6" x2="114.01" y2="25.15" stroke="#000" stroke-width="1.3" stroke-linecap="round"/>
<line x1="150.39" y1="46.15" x2="170.9" y2="51.5" stroke="#000" stroke-width="1.3" stroke-linecap="round"/>
<line x1="170.9" y1="51.5" x2="181.5" y2="44.3" stroke="#000" stroke-width="1.3" stroke-linecap="round"/>
<text x="188.8" y="43.3" font-size="15.5" text-anchor="middle" font-weight="normal" >O</text>
<line x1="195.7" y1="44.8" x2="205.3" y2="51.5" stroke="#000" stroke-width="1.3" stroke-linecap="round"/>
<line x1="170.9" y1="51.5" x2="174" y2="63" stroke="#000" stroke-width="1.3" stroke-linecap="round"/>
<line x1="175.4" y1="54.6" x2="177.6" y2="62.8" stroke="#000" stroke-width="1.3" stroke-linecap="round"/>
<text x="176.6" y="77.1" font-size="15.5" text-anchor="middle" font-weight="normal" >N</text>
<line x1="185.6" y1="72.4" x2="190.9" y2="72.4" stroke="#000" stroke-width="1.3" />
<text x="197.6" y="77.1" font-size="15.5" text-anchor="middle" font-weight="normal" >N</text>
<line x1="205.3" y1="51.5" x2="202.2" y2="63" stroke="#000" stroke-width="1.3" stroke-linecap="round"/>
<line x1="200.8" y1="54.6" x2="198.6" y2="62.8" stroke="#000" stroke-width="1.3" stroke-linecap="round"/>
<line x1="205.3" y1="51.5" x2="217.9" y2="48" stroke="#000" stroke-width="1.3" stroke-linecap="round"/>
<text x="225.6" y="51.2" font-size="15.5" text-anchor="middle" font-weight="normal" >N</text>
<text x="225.6" y="38.2" font-size="15.5" text-anchor="middle" font-weight="normal" >H</text>
<line x1="234.6" y1="51.3" x2="244" y2="57" stroke="#000" stroke-width="1.3" stroke-linecap="round"/>
<line x1="244" y1="57" x2="255.2" y2="49.6" stroke="#000" stroke-width="1.3" stroke-linecap="round"/>
<line x1="247.6" y1="58.6" x2="256.4" y2="52.6" stroke="#000" stroke-width="1.3" stroke-linecap="round"/>
<text x="261.6" y="48.8" font-size="15.5" text-anchor="middle" font-weight="normal" >N</text>
<line x1="268.6" y1="50.6" x2="277.7" y2="57.2" stroke="#000" stroke-width="1.3" stroke-linecap="round"/>
<line x1="244" y1="57" x2="246.8" y2="67.6" stroke="#000" stroke-width="1.3" stroke-linecap="round"/>
<text x="249.5" y="81.6" font-size="15.5" text-anchor="middle" font-weight="normal" >S</text>
<line x1="256.6" y1="77.2" x2="270.1" y2="77.2" stroke="#000" stroke-width="1.3" stroke-linecap="round"/>
<line x1="277.7" y1="57.2" x2="298.6" y2="53.5" stroke="#000" stroke-width="1.3" stroke-linecap="round"/>
<line x1="298.6" y1="53.5" x2="312.6" y2="70" stroke="#000" stroke-width="1.3" stroke-linecap="round"/>
<line x1="312.6" y1="70" x2="305.6" y2="89.8" stroke="#000" stroke-width="1.3" stroke-linecap="round"/>
<line x1="305.6" y1="89.8" x2="284.1" y2="93.8" stroke="#000" stroke-width="1.3" stroke-linecap="round"/>
<line x1="284.1" y1="93.8" x2="270.1" y2="77.2" stroke="#000" stroke-width="1.3" stroke-linecap="round"/>
<line x1="270.1" y1="77.2" x2="277.7" y2="57.2" stroke="#000" stroke-width="1.3" stroke-linecap="round"/>
<line x1="279.77" y1="61.88" x2="274.76" y2="75.08" stroke="#000" stroke-width="1.3" stroke-linecap="round"/>
<line x1="298.23" y1="58.63" x2="307.47" y2="69.52" stroke="#000" stroke-width="1.3" stroke-linecap="round"/>
<line x1="301.29" y1="86.94" x2="287.1" y2="89.58" stroke="#000" stroke-width="1.3" stroke-linecap="round"/>
<line x1="298.6" y1="53.5" x2="304.6" y2="43.6" stroke="#000" stroke-width="1.3" stroke-linecap="round"/>
<text x="305" y="40" font-size="15.5" text-anchor="start" font-weight="normal" >OMe</text>
<text x="222.5" y="118.5" font-size="15.5" text-anchor="start" font-weight="normal" >N106</text>
<text x="223" y="136.8" font-size="15.5" textLength="541.5" lengthAdjust="spacingAndGlyphs"><tspan font-style="italic">N</tspan>-(4-methoxybenzo[d]thiazol-2-yl)-5-(4-methoxyphenyl)-1,3,4-oxadiazol-2-amine</text>
<defs><filter id="bl" x="-20%" y="-50%" width="140%" height="200%"><feGaussianBlur stdDeviation="1.3"/></filter><filter id="bl3" x="-30%" y="-50%" width="160%" height="200%"><feGaussianBlur stdDeviation="2.2"/></filter><filter id="bl2" x="-20%" y="-50%" width="140%" height="200%"><feGaussianBlur stdDeviation="0.7"/></filter><linearGradient id="gv" x1="0" y1="0" x2="0" y2="1"><stop offset="0" stop-color="#000" stop-opacity="0"/><stop offset="0.75" stop-color="#000" stop-opacity="1"/><stop offset="1" stop-color="#000" stop-opacity="0.9"/></linearGradient></defs>
<rect x="380.6" y="752.4" width="169.2" height="67" fill="#ececec"/>
<rect x="388.7" y="757.5" width="27" height="60.5" fill="#dedede" filter="url(#bl2)"/>
<rect x="422.7" y="757.5" width="25.1" height="60.5" fill="#e0e0e0" filter="url(#bl2)"/>
<rect x="454.8" y="757.5" width="24.7" height="60.5" fill="#d6d6d6" filter="url(#bl2)"/>
<rect x="487.3" y="757.5" width="25" height="60.5" fill="#cbcbcb" filter="url(#bl2)"/>
<rect x="519.4" y="757.5" width="26.4" height="60.5" fill="#cdcdcd" filter="url(#bl2)"/>
<rect x="389.7" y="758.5" width="25" height="5" rx="1.5" fill="#d7d7d7" opacity="0.8" filter="url(#bl)"/>
<rect x="423.7" y="758.5" width="23.1" height="5" rx="1.5" fill="#dadada" opacity="0.8" filter="url(#bl)"/>
<rect x="455.8" y="758.5" width="22.7" height="5" rx="1.5" fill="#bebebe" opacity="0.8" filter="url(#bl)"/>
<rect x="488.3" y="758.5" width="23" height="5" rx="1.5" fill="#afafaf" opacity="0.8" filter="url(#bl)"/>
<rect x="520.4" y="758.5" width="24.4" height="5" rx="1.5" fill="#b4b4b4" opacity="0.8" filter="url(#bl)"/>
<linearGradient id="g436" x1="0" y1="0" x2="0" y2="1"><stop offset="0" stop-color="#646464" stop-opacity="0"/><stop offset="0.7" stop-color="#646464" stop-opacity="1"/><stop offset="1" stop-color="#646464" stop-opacity="1"/></linearGradient>
<rect x="388.7" y="774" width="27" height="16.5" fill="url(#g436)" filter="url(#bl)"/>
<linearGradient id="g438" x1="0" y1="0" x2="0" y2="1"><stop offset="0" stop-color="#7d7d7d" stop-opacity="0"/><stop offset="0.7" stop-color="#7d7d7d" stop-opacity="1"/><stop offset="1" stop-color="#7d7d7d" stop-opacity="1"/></linearGradient>
<rect x="422.7" y="776" width="25.1" height="14.5" fill="url(#g438)" filter="url(#bl)"/>
<linearGradient id="g440" x1="0" y1="0" x2="0" y2="1"><stop offset="0" stop-color="#555555" stop-opacity="0"/><stop offset="0.7" stop-color="#555555" stop-opacity="1"/><stop offset="1" stop-color="#555555" stop-opacity="1"/></linearGradient>
<rect x="454.8" y="773" width="24.7" height="17.5" fill="url(#g440)" filter="url(#bl)"/>
<linearGradient id="g442" x1="0" y1="0" x2="0" y2="1"><stop offset="0" stop-color="#0e0e0e" stop-opacity="0"/><stop offset="0.7" stop-color="#0e0e0e" stop-opacity="1"/><stop offset="1" stop-color="#0e0e0e" stop-opacity="1"/></linearGradient>
<rect x="487.3" y="768" width="25" height="22.5" fill="url(#g442)" filter="url(#bl)"/>
<linearGradient id="g444" x1="0" y1="0" x2="0" y2="1"><stop offset="0" stop-color="#0a0a0a" stop-opacity="0"/><stop offset="0.7" stop-color="#0a0a0a" stop-opacity="1"/><stop offset="1" stop-color="#0a0a0a" stop-opacity="1"/></linearGradient>
<rect x="519.4" y="765" width="26.4" height="25.5" fill="url(#g444)" filter="url(#bl)"/>
<rect x="388.7" y="799.3" width="27" height="6" rx="1.5" fill="#b9b9b9" opacity="1.0" filter="url(#bl)"/>
<rect x="422.7" y="799.3" width="25.1" height="6" rx="1.5" fill="#c8c8c8" opacity="1.0" filter="url(#bl)"/>
<rect x="454.8" y="799.3" width="24.7" height="6" rx="1.5" fill="#bebebe" opacity="1.0" filter="url(#bl)"/>
<rect x="487.3" y="799.3" width="25" height="6" rx="1.5" fill="#5f5f5f" opacity="1.0" filter="url(#bl)"/>
<rect x="519.4" y="799.3" width="26.4" height="6" rx="1.5" fill="#5a5a5a" opacity="1.0" filter="url(#bl)"/>
<rect x="388.7" y="809" width="27" height="8" rx="1.5" fill="#c8c8c8" opacity="0.7" filter="url(#bl)"/>
<rect x="422.7" y="809" width="25.1" height="8" rx="1.5" fill="#cdcdcd" opacity="0.7" filter="url(#bl)"/>
<rect x="454.8" y="809" width="24.7" height="8" rx="1.5" fill="#c8c8c8" opacity="0.7" filter="url(#bl)"/>
<rect x="487.3" y="809" width="25" height="8" rx="1.5" fill="#afafaf" opacity="0.7" filter="url(#bl)"/>
<rect x="519.4" y="809" width="26.4" height="8" rx="1.5" fill="#b4b4b4" opacity="0.7" filter="url(#bl)"/>
<rect x="380.6" y="752.4" width="169.2" height="67" fill="none" stroke="#111" stroke-width="1.7"/>
<rect x="380.2" y="825.6" width="170.4" height="33.4" fill="#ececec" stroke="#111" stroke-width="1.7"/>
<rect x="388.5" y="840.7" width="32.7" height="8.6" rx="4" fill="#0c0c0c" opacity="1.0" filter="url(#bl)"/>
<rect x="423.8" y="840.7" width="27.5" height="8.6" rx="4" fill="#0c0c0c" opacity="1.0" filter="url(#bl)"/>
<rect x="454.4" y="840.7" width="27.1" height="8.6" rx="4" fill="#0c0c0c" opacity="1.0" filter="url(#bl)"/>
<rect x="485.5" y="840.7" width="27.1" height="8.6" rx="4" fill="#0c0c0c" opacity="1.0" filter="url(#bl)"/>
<rect x="516.6" y="840.7" width="26.5" height="8.6" rx="4" fill="#0c0c0c" opacity="1.0" filter="url(#bl)"/>
<text x="358.5" y="763.8" font-size="15.5" text-anchor="end" font-weight="normal" >250</text>
<line x1="362.6" y1="759.3" x2="375.9" y2="759.3" stroke="#000" stroke-width="1.6" />
<text x="358.5" y="789.6" font-size="15.5" text-anchor="end" font-weight="normal" >150</text>
<line x1="362.6" y1="785.1" x2="375.9" y2="785.1" stroke="#000" stroke-width="1.6" />
<text x="358.5" y="852.2" font-size="15.5" text-anchor="end" font-weight="normal" >100</text>
<line x1="362.6" y1="847.7" x2="375.9" y2="847.7" stroke="#000" stroke-width="1.6" />
<text x="310.5" y="743.5" font-size="15.5" text-anchor="start" font-weight="normal" >MW (kDa)</text>
<text x="553.2" y="787.1" font-size="15" text-anchor="start" font-weight="normal" >SUMOylated</text>
<text x="553.2" y="805.4" font-size="15" text-anchor="start" font-weight="normal" >SERCA2a</text>
<text x="553.2" y="849.6" font-size="15" text-anchor="start" font-weight="normal" >SERCA2a</text>
<text transform="translate(402.7,746.8) rotate(-45)" font-size="14.6">DMSO</text>
<text transform="translate(438.2,746.3) rotate(-45)" font-size="14.6">1 nM</text>
<text transform="translate(468.2,746.3) rotate(-45)" font-size="14.6">10 nM</text>
<text transform="translate(502.7,746.3) rotate(-45)" font-size="14.6">100 nM</text>
<text transform="translate(532.7,746.3) rotate(-45)" font-size="14.6">10 μM</text>
<rect x="713.5" y="698.8" width="160.2" height="163.2" fill="#f1f1f1"/>
<rect x="717.5" y="708" width="26.8" height="150" fill="#eaeaea" filter="url(#bl)"/>
<rect x="749.8" y="708" width="25.4" height="150" fill="#e7e7e7" filter="url(#bl)"/>
<rect x="779.6" y="708" width="27.9" height="150" fill="#e7e7e7" filter="url(#bl)"/>
<rect x="812.6" y="708" width="26" height="150" fill="#e8e8e8" filter="url(#bl)"/>
<rect x="843.6" y="708" width="26.2" height="150" fill="#e4e4e4" filter="url(#bl)"/>
<rect x="718.5" y="786" width="24.8" height="26" fill="#dedede" opacity="1.0" filter="url(#bl3)"/>
<rect x="750.8" y="786" width="23.4" height="26" fill="#cdcdcd" opacity="1.0" filter="url(#bl3)"/>
<rect x="780.6" y="786" width="25.9" height="26" fill="#cdcdcd" opacity="1.0" filter="url(#bl3)"/>
<rect x="813.6" y="786" width="24" height="26" fill="#d2d2d2" opacity="1.0" filter="url(#bl3)"/>
<rect x="844.6" y="786" width="24.2" height="26" fill="#bebebe" opacity="1.0" filter="url(#bl3)"/>
<rect x="718.5" y="828" width="24.8" height="10" fill="#e2e2e2" opacity="1.0" filter="url(#bl3)"/>
<rect x="750.8" y="828" width="23.4" height="10" fill="#c3c3c3" opacity="1.0" filter="url(#bl3)"/>
<rect x="780.6" y="828" width="25.9" height="10" fill="#c8c8c8" opacity="1.0" filter="url(#bl3)"/>
<rect x="813.6" y="828" width="24" height="10" fill="#c8c8c8" opacity="1.0" filter="url(#bl3)"/>
<rect x="844.6" y="828" width="24.2" height="10" fill="#aaaaaa" opacity="1.0" filter="url(#bl3)"/>
<rect x="718.5" y="741" width="24.8" height="19" fill="#e6e6e6" opacity="1.0" filter="url(#bl3)"/>
<rect x="750.8" y="741" width="23.4" height="19" fill="#cdcdcd" opacity="1.0" filter="url(#bl3)"/>
<rect x="780.6" y="741" width="25.9" height="19" fill="#d2d2d2" opacity="1.0" filter="url(#bl3)"/>
<rect x="813.6" y="741" width="24" height="19" fill="#cdcdcd" opacity="1.0" filter="url(#bl3)"/>
<rect x="844.6" y="741" width="24.2" height="19" fill="#c8c8c8" opacity="1.0" filter="url(#bl3)"/>
<rect x="718.5" y="719" width="24.8" height="17" fill="#eeeeee" opacity="1.0" filter="url(#bl3)"/>
<rect x="750.8" y="719" width="23.4" height="17" fill="#e6e6e6" opacity="1.0" filter="url(#bl3)"/>
<rect x="780.6" y="719" width="25.9" height="17" fill="#dedede" opacity="1.0" filter="url(#bl3)"/>
<rect x="813.6" y="719" width="24" height="17" fill="#d7d7d7" opacity="1.0" filter="url(#bl3)"/>
<rect x="844.6" y="719" width="24.2" height="17" fill="#d7d7d7" opacity="1.0" filter="url(#bl3)"/>
<rect x="845" y="766" width="23" height="9" fill="#a0a0a0" opacity="1.0" filter="url(#bl3)"/>
<rect x="718" y="714.5" width="25.8" height="3" rx="1.5" fill="#f0f0f0" opacity="1.0" filter="url(#bl)"/>
<rect x="750.3" y="714.5" width="24.4" height="3" rx="1.5" fill="#d7d7d7" opacity="1.0" filter="url(#bl)"/>
<rect x="780.1" y="714.5" width="26.9" height="3" rx="1.5" fill="#e8e8e8" opacity="1.0" filter="url(#bl)"/>
<rect x="813.1" y="714.5" width="25" height="3" rx="1.5" fill="#373737" opacity="1.0" filter="url(#bl)"/>
<rect x="844.1" y="714.5" width="25.2" height="3" rx="1.5" fill="#555555" opacity="1.0" filter="url(#bl)"/>
<rect x="718" y="725.5" width="25.8" height="3" rx="1.5" fill="#f2f2f2" opacity="1.0" filter="url(#bl)"/>
<rect x="750.3" y="725.5" width="24.4" height="3" rx="1.5" fill="#eeeeee" opacity="1.0" filter="url(#bl)"/>
<rect x="780.1" y="725.5" width="26.9" height="3" rx="1.5" fill="#ececec" opacity="1.0" filter="url(#bl)"/>
<rect x="813.1" y="725.5" width="25" height="3" rx="1.5" fill="#696969" opacity="1.0" filter="url(#bl)"/>
<rect x="844.1" y="725.5" width="25.2" height="3" rx="1.5" fill="#696969" opacity="1.0" filter="url(#bl)"/>
<rect x="718" y="736.6" width="25.8" height="3.4" rx="1.5" fill="#1e1e1e" opacity="1.0" filter="url(#bl)"/>
<rect x="750.3" y="736.6" width="24.4" height="3.4" rx="1.5" fill="#191919" opacity="1.0" filter="url(#bl)"/>
<rect x="780.1" y="736.6" width="26.9" height="3.4" rx="1.5" fill="#191919" opacity="1.0" filter="url(#bl)"/>
<rect x="813.1" y="736.6" width="25" height="3.4" rx="1.5" fill="#191919" opacity="1.0" filter="url(#bl)"/>
<rect x="844.1" y="736.6" width="25.2" height="3.4" rx="1.5" fill="#161616" opacity="1.0" filter="url(#bl)"/>
<rect x="718" y="742.5" width="25.8" height="2.2" rx="1.1" fill="#cdcdcd" opacity="1.0" filter="url(#bl)"/>
<rect x="750.3" y="742.5" width="24.4" height="2.2" rx="1.1" fill="#b4b4b4" opacity="1.0" filter="url(#bl)"/>
<rect x="780.1" y="742.5" width="26.9" height="2.2" rx="1.1" fill="#b9b9b9" opacity="1.0" filter="url(#bl)"/>
<rect x="813.1" y="742.5" width="25" height="2.2" rx="1.1" fill="#b4b4b4" opacity="1.0" filter="url(#bl)"/>
<rect x="844.1" y="742.5" width="25.2" height="2.2" rx="1.1" fill="#afafaf" opacity="1.0" filter="url(#bl)"/>
<rect x="718" y="745.9" width="25.8" height="2.2" rx="1.1" fill="#d7d7d7" opacity="1.0" filter="url(#bl)"/>
<rect x="750.3" y="745.9" width="24.4" height="2.2" rx="1.1" fill="#afafaf" opacity="1.0" filter="url(#bl)"/>
<rect x="780.1" y="745.9" width="26.9" height="2.2" rx="1.1" fill="#b4b4b4" opacity="1.0" filter="url(#bl)"/>
<rect x="813.1" y="745.9" width="25" height="2.2" rx="1.1" fill="#b4b4b4" opacity="1.0" filter="url(#bl)"/>
<rect x="844.1" y="745.9" width="25.2" height="2.2" rx="1.1" fill="#aaaaaa" opacity="1.0" filter="url(#bl)"/>
<rect x="718" y="750.1" width="25.8" height="3" rx="1.5" fill="#a5a5a5" opacity="1.0" filter="url(#bl)"/>
<rect x="750.3" y="750.1" width="24.4" height="3" rx="1.5" fill="#737373" opacity="1.0" filter="url(#bl)"/>
<rect x="780.1" y="750.1" width="26.9" height="3" rx="1.5" fill="#828282" opacity="1.0" filter="url(#bl)"/>
<rect x="813.1" y="750.1" width="25" height="3" rx="1.5" fill="#828282" opacity="1.0" filter="url(#bl)"/>
<rect x="844.1" y="750.1" width="25.2" height="3" rx="1.5" fill="#737373" opacity="1.0" filter="url(#bl)"/>
<rect x="718" y="762.3" width="25.8" height="4.2" rx="1.5" fill="#6e6e6e" opacity="1.0" filter="url(#bl)"/>
<rect x="750.3" y="762.3" width="24.4" height="4.2" rx="1.5" fill="#1e1e1e" opacity="1.0" filter="url(#bl)"/>
<rect x="780.1" y="762.3" width="26.9" height="4.2" rx="1.5" fill="#2d2d2d" opacity="1.0" filter="url(#bl)"/>
<rect x="813.1" y="762.3" width="25" height="4.2" rx="1.5" fill="#2d2d2d" opacity="1.0" filter="url(#bl)"/>
<rect x="844.1" y="762.3" width="25.2" height="4.2" rx="1.5" fill="#141414" opacity="1.0" filter="url(#bl)"/>
<rect x="718" y="774.9" width="25.8" height="4" rx="1.5" fill="#161616" opacity="1.0" filter="url(#bl)"/>
<rect x="750.3" y="774.9" width="24.4" height="4" rx="1.5" fill="#0c0c0c" opacity="1.0" filter="url(#bl)"/>
<rect x="780.1" y="774.9" width="26.9" height="4" rx="1.5" fill="#0c0c0c" opacity="1.0" filter="url(#bl)"/>
<rect x="813.1" y="774.9" width="25" height="4" rx="1.5" fill="#161616" opacity="1.0" filter="url(#bl)"/>
<rect x="844.1" y="774.9" width="25.2" height="4" rx="1.5" fill="#0a0a0a" opacity="1.0" filter="url(#bl)"/>
<rect x="718" y="778.3" width="25.8" height="2" rx="1" fill="#787878" opacity="1.0" filter="url(#bl)"/>
<rect x="750.3" y="778.3" width="24.4" height="2" rx="1" fill="#0c0c0c" opacity="1.0" filter="url(#bl)"/>
<rect x="780.1" y="778.3" width="26.9" height="2" rx="1" fill="#0c0c0c" opacity="1.0" filter="url(#bl)"/>
<rect x="813.1" y="778.3" width="25" height="2" rx="1" fill="#464646" opacity="1.0" filter="url(#bl)"/>
<rect x="844.1" y="778.3" width="25.2" height="2" rx="1" fill="#0a0a0a" opacity="1.0" filter="url(#bl)"/>
<rect x="718" y="779.7" width="25.8" height="4" rx="1.5" fill="#191919" opacity="1.0" filter="url(#bl)"/>
<rect x="750.3" y="779.7" width="24.4" height="4" rx="1.5" fill="#0c0c0c" opacity="1.0" filter="url(#bl)"/>
<rect x="780.1" y="779.7" width="26.9" height="4" rx="1.5" fill="#0c0c0c" opacity="1.0" filter="url(#bl)"/>
<rect x="813.1" y="779.7" width="25" height="4" rx="1.5" fill="#191919" opacity="1.0" filter="url(#bl)"/>
<rect x="844.1" y="779.7" width="25.2" height="4" rx="1.5" fill="#0a0a0a" opacity="1.0" filter="url(#bl)"/>
<rect x="718" y="791.4" width="25.8" height="2.4" rx="1.2" fill="#dedede" opacity="1.0" filter="url(#bl)"/>
<rect x="750.3" y="791.4" width="24.4" height="2.4" rx="1.2" fill="#bebebe" opacity="1.0" filter="url(#bl)"/>
<rect x="780.1" y="791.4" width="26.9" height="2.4" rx="1.2" fill="#bebebe" opacity="1.0" filter="url(#bl)"/>
<rect x="813.1" y="791.4" width="25" height="2.4" rx="1.2" fill="#c3c3c3" opacity="1.0" filter="url(#bl)"/>
<rect x="844.1" y="791.4" width="25.2" height="2.4" rx="1.2" fill="#a5a5a5" opacity="1.0" filter="url(#bl)"/>
<rect x="718" y="800.3" width="25.8" height="2.6" rx="1.3" fill="#dcdcdc" opacity="1.0" filter="url(#bl)"/>
<rect x="750.3" y="800.3" width="24.4" height="2.6" rx="1.3" fill="#c3c3c3" opacity="1.0" filter="url(#bl)"/>
<rect x="780.1" y="800.3" width="26.9" height="2.6" rx="1.3" fill="#bebebe" opacity="1.0" filter="url(#bl)"/>
<rect x="813.1" y="800.3" width="25" height="2.6" rx="1.3" fill="#cdcdcd" opacity="1.0" filter="url(#bl)"/>
<rect x="844.1" y="800.3" width="25.2" height="2.6" rx="1.3" fill="#aaaaaa" opacity="1.0" filter="url(#bl)"/>
<rect x="718" y="808.4" width="25.8" height="2.4" rx="1.2" fill="#dedede" opacity="1.0" filter="url(#bl)"/>
<rect x="750.3" y="808.4" width="24.4" height="2.4" rx="1.2" fill="#c3c3c3" opacity="1.0" filter="url(#bl)"/>
<rect x="780.1" y="808.4" width="26.9" height="2.4" rx="1.2" fill="#c3c3c3" opacity="1.0" filter="url(#bl)"/>
<rect x="813.1" y="808.4" width="25" height="2.4" rx="1.2" fill="#c8c8c8" opacity="1.0" filter="url(#bl)"/>
<rect x="844.1" y="808.4" width="25.2" height="2.4" rx="1.2" fill="#a0a0a0" opacity="1.0" filter="url(#bl)"/>
<rect x="718" y="815.4" width="25.8" height="3.6" rx="1.5" fill="#aaaaaa" opacity="1.0" filter="url(#bl)"/>
<rect x="750.3" y="815.4" width="24.4" height="3.6" rx="1.5" fill="#373737" opacity="1.0" filter="url(#bl)"/>
<rect x="780.1" y="815.4" width="26.9" height="3.6" rx="1.5" fill="#555555" opacity="1.0" filter="url(#bl)"/>
<rect x="813.1" y="815.4" width="25" height="3.6" rx="1.5" fill="#464646" opacity="1.0" filter="url(#bl)"/>
<rect x="844.1" y="815.4" width="25.2" height="3.6" rx="1.5" fill="#141414" opacity="1.0" filter="url(#bl)"/>
<rect x="718" y="825" width="25.8" height="4.2" rx="1.5" fill="#b9b9b9" opacity="1.0" filter="url(#bl)"/>
<rect x="750.3" y="825" width="24.4" height="4.2" rx="1.5" fill="#282828" opacity="1.0" filter="url(#bl)"/>
<rect x="780.1" y="825" width="26.9" height="4.2" rx="1.5" fill="#464646" opacity="1.0" filter="url(#bl)"/>
<rect x="813.1" y="825" width="25" height="4.2" rx="1.5" fill="#555555" opacity="1.0" filter="url(#bl)"/>
<rect x="844.1" y="825" width="25.2" height="4.2" rx="1.5" fill="#0f0f0f" opacity="1.0" filter="url(#bl)"/>
<rect x="750.5" y="774.75" width="24" height="9.5" rx="1.5" fill="#0a0a0a" opacity="1.0" filter="url(#bl)"/>
<rect x="780.5" y="774.75" width="26.5" height="9.5" rx="1.5" fill="#0a0a0a" opacity="1.0" filter="url(#bl)"/>
<rect x="844" y="773.85" width="25.5" height="11.5" rx="1.5" fill="#080808" opacity="1.0" filter="url(#bl)"/>
<rect x="844" y="761.75" width="25.5" height="6.5" rx="1.5" fill="#0f0f0f" opacity="1.0" filter="url(#bl)"/>
<rect x="844" y="824.85" width="25.5" height="5.5" rx="1.5" fill="#0c0c0c" opacity="1.0" filter="url(#bl)"/>
<rect x="844" y="815.1" width="25.5" height="4.2" rx="1.5" fill="#121212" opacity="1.0" filter="url(#bl)"/>
<rect x="716.3" y="774.9" width="28" height="4" rx="1.5" fill="#161616" opacity="1.0" filter="url(#bl)"/>
<rect x="716.3" y="779.7" width="28" height="4" rx="1.5" fill="#191919" opacity="1.0" filter="url(#bl)"/>
<rect x="713.5" y="698.8" width="160.2" height="163.2" fill="none" stroke="#111" stroke-width="1.7"/>
<rect x="713.8" y="868.5" width="160.2" height="31.6" fill="#eeeeee" stroke="#111" stroke-width="1.7"/>
<rect x="719.5" y="879.4" width="32" height="9.8" rx="4" fill="#0c0c0c" opacity="1.0" filter="url(#bl2)"/>
<rect x="751" y="879.4" width="28" height="9.8" rx="4" fill="#0c0c0c" opacity="1.0" filter="url(#bl2)"/>
<rect x="778.5" y="879.4" width="30.5" height="9.8" rx="4" fill="#0c0c0c" opacity="1.0" filter="url(#bl2)"/>
<rect x="809" y="879.4" width="29" height="9.8" rx="4" fill="#0c0c0c" opacity="1.0" filter="url(#bl2)"/>
<rect x="837.5" y="879.4" width="31.1" height="9.8" rx="4" fill="#0c0c0c" opacity="1.0" filter="url(#bl2)"/>
<text x="694.3" y="712.3" font-size="15.5" text-anchor="end" font-weight="normal" >250</text>
<line x1="696.7" y1="711.5" x2="709.6" y2="711.5" stroke="#000" stroke-width="1.6" />
<text x="694.3" y="726.6" font-size="15.5" text-anchor="end" font-weight="normal" >150</text>
<line x1="696.7" y1="719.7" x2="709.6" y2="719.7" stroke="#000" stroke-width="1.6" />
<text x="694.3" y="751.5" font-size="15.5" text-anchor="end" font-weight="normal" >75</text>
<line x1="696.7" y1="746.7" x2="709.6" y2="746.7" stroke="#000" stroke-width="1.6" />
<text x="694.3" y="770.8" font-size="15.5" text-anchor="end" font-weight="normal" >50</text>
<line x1="696.7" y1="765.9" x2="709.6" y2="765.9" stroke="#000" stroke-width="1.6" />
<text x="694.3" y="821.2" font-size="15.5" text-anchor="end" font-weight="normal" >25</text>
<line x1="696.7" y1="816.3" x2="709.6" y2="816.3" stroke="#000" stroke-width="1.6" />
<text x="694.3" y="880.2" font-size="15.5" text-anchor="end" font-weight="normal" >37</text>
<line x1="698.3" y1="876.4" x2="711.8" y2="876.4" stroke="#000" stroke-width="1.6" />
<text x="645.5" y="692.5" font-size="15.5" text-anchor="start" font-weight="normal" >MW (kDa)</text>
<text transform="translate(732.7,691.8) rotate(-45)" font-size="14.6">DMSO</text>
<text transform="translate(768.2,690.8) rotate(-45)" font-size="14.6">1 nM</text>
<text transform="translate(796.7,690.3) rotate(-45)" font-size="14.6">10 nM</text>
<text transform="translate(825.7,690.3) rotate(-45)" font-size="14.6">100 nM</text>
<text transform="translate(858.2,690.3) rotate(-45)" font-size="14.6">10 μM</text>
<text x="878" y="771.9" font-size="14.2" text-anchor="start" font-weight="normal" >SUMO-1</text>
<text x="878" y="788.5" font-size="14.2" text-anchor="start" font-weight="normal" >conjugates</text>
<text x="878" y="889.9" font-size="14.2" text-anchor="start" font-weight="normal" >GAPDH</text>
</svg>
</body></html>
